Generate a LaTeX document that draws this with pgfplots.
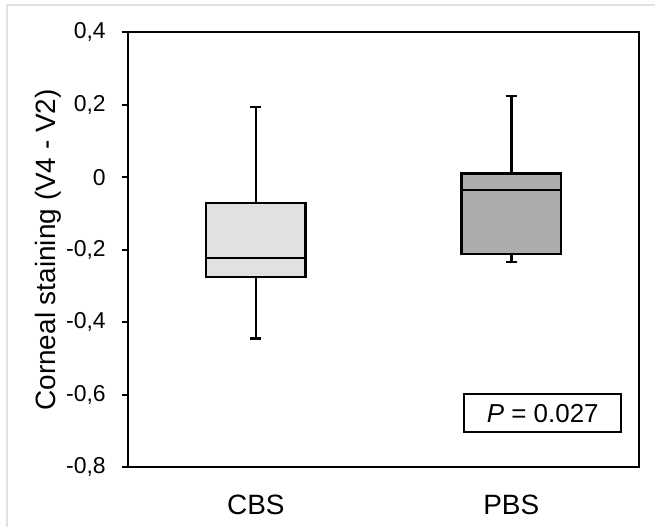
\documentclass[border=0pt]{standalone}
\usepackage{pgfplots}
\pgfplotsset{compat=1.18}
\usepackage{fontspec}
\setmainfont{Liberation Sans}
\definecolor{cbsgray}{HTML}{E1E1E1}
\definecolor{pbsgray}{HTML}{ACACAC}
\definecolor{framegray}{HTML}{E2E2E2}
% five-number summaries: pos, lower whisker, lower quartile, median, upper quartile, upper whisker
% CBS: 1, -0.444, -0.275, -0.223, -0.070, 0.194
% PBS: 2, -0.234, -0.212, -0.035,  0.011, 0.224
\begin{document}
\begin{tikzpicture}
\draw[framegray, line width=1pt] (3.5pt,0pt) -- (3.5pt,261.5pt) -- (328pt,261.5pt);
\draw[white] (0,0) rectangle (328pt,264pt);
\begin{axis}[
  at={(64pt,30pt)}, anchor=south west,
  scale only axis, width=256pt, height=218pt,
  xmin=0.5, xmax=2.5, ymin=-0.8, ymax=0.4,
  axis line style={line width=1pt, black},
  xtick={1,2}, xticklabels={CBS,PBS},
  x tick label style={font=\fontsize{14}{16}\selectfont, yshift=-7.3pt},
  major x tick style={draw=none},
  ytick={-0.8,-0.6,-0.4,-0.2,0,0.2,0.4},
  yticklabels={{-0,8},{-0,6},{-0,4},{-0,2},{0},{0,2},{0,4}},
  ytick pos=left, tick align=outside,
  major tick length=3.2pt,
  major y tick style={line width=1pt, black},
  every y tick label/.append style={font=\fontsize{11.5}{13}\selectfont, xshift=-4.5pt},
  ylabel={Corneal staining (V4 - V2)},
  ylabel style={font=\fontsize{14}{16}\selectfont, at={(axis description cs:-0.156,0.5)}, anchor=center},
  every axis plot/.append style={line width=1.2pt},
]
% CBS
\addplot[draw=black, fill=cbsgray] coordinates {(0.805,-0.275) (1.195,-0.275) (1.195,-0.070) (0.805,-0.070)} -- cycle;
\addplot[black, line width=0.9pt] coordinates {(0.805,-0.223) (1.195,-0.223)};
\addplot[black] coordinates {(1,-0.070) (1,0.194)};
\addplot[black] coordinates {(1,-0.275) (1,-0.444)};
\addplot[black] coordinates {(0.9785,0.194) (1.0215,0.194)};
\addplot[black] coordinates {(0.9785,-0.444) (1.0215,-0.444)};
% PBS
\addplot[draw=black, fill=pbsgray] coordinates {(1.805,-0.212) (2.195,-0.212) (2.195,0.011) (1.805,0.011)} -- cycle;
\addplot[black, line width=0.9pt] coordinates {(1.805,-0.035) (2.195,-0.035)};
\addplot[black] coordinates {(2,0.011) (2,0.224)};
\addplot[black] coordinates {(2,-0.212) (2,-0.234)};
\addplot[black] coordinates {(1.9785,0.224) (2.0215,0.224)};
\addplot[black] coordinates {(1.9785,-0.234) (2.0215,-0.234)};
\node[draw=black, line width=1pt, fill=white, minimum width=78.5pt, minimum height=19pt,
  inner sep=0pt, font=\fontsize{13}{15}\selectfont]
  at (axis cs:2.123,-0.651) {\itshape P\upshape{} = 0.027};
\end{axis}
\end{tikzpicture}
\end{document}
